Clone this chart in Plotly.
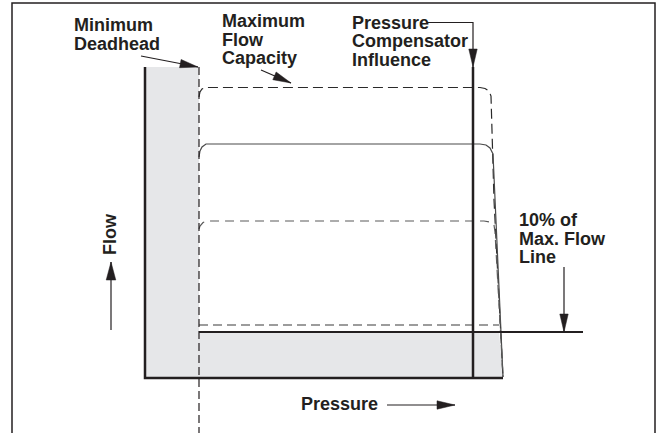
import math
import plotly.graph_objects as go

# Schematic units: pressure runs right from the vertical axis, flow runs up from
# the horizontal axis (1 unit = 1 px on both axes).

# Curves of flow vs. pressure
max_flow_p = [54, 55, 57, 60, 335, 340, 344, 346, 349, 358]
max_flow_q = [281, 286, 289, 290.5, 290.5, 289.5, 287, 282, 178, 1]

mid_flow_p = [54, 55, 57, 61, 335, 341, 345, 348, 358]
mid_flow_q = [221, 227, 231, 234, 234, 233, 230, 224, 1]

low_flow_p = [54, 55, 58, 64, 339, 345, 349, 350, 358]
low_flow_q = [149, 152, 155.5, 157, 157, 156, 153, 146, 1]

min_flow_p = [54, 354]
min_flow_q = [53, 53]

# Reference lines
deadhead_p = 54
deadhead_top = 311
deadhead_bottom = -60
ten_pct_q = 46
ten_pct_p = [54, 438]
compensator_p = 328
axis_top = 311
axis_right = 358

# Shaded operating limits
shade_p = [0, 0, 54, 54, 354, 358, 0]
shade_q = [0, 311, 311, 46, 46, 0, 0]

# Outer frame
frame_p = [-133, -133, 510, 510]
frame_q = [-60, 375, 375, -60]

# Callout arrows (tail ... tip)
deadhead_arrow_p = [-4, 53]
deadhead_arrow_q = [322, 311]
capacity_arrow_p = [116, 146]
capacity_arrow_q = [308, 295]
compensator_arrow_p = [282, 328, 328]
compensator_arrow_q = [355.5, 355.5, 311]
ten_pct_arrow_p = [419, 419]
ten_pct_arrow_q = [111, 46]
flow_arrow_p = [-34, -34]
flow_arrow_q = [48, 116]
pressure_arrow_p = [242, 310]
pressure_arrow_q = [-27, -27]

# Labels: (text lines, left x, y of each line)
labels = [
    (["Minimum", "Deadhead"], -72, [353.5, 334]),
    (["Maximum", "Flow", "Capacity"], 76, [357, 338.5, 320]),
    (["Pressure", "Compensator", "Influence"], 206, [355.5, 337, 318.5]),
    (["10% of", "Max. Flow", "Line"], 373, [158, 139.5, 121]),
]

INK = "#231f20"
FONT = "Liberation Sans, Arial, sans-serif"

fig = go.Figure()


def line(xs, ys, width=1.2, color=INK, dash="solid"):
    fig.add_trace(go.Scatter(
        x=xs, y=ys, mode="lines", hoverinfo="skip", showlegend=False,
        line=dict(color=color, width=width, dash=dash),
    ))


def arrow(xs, ys, width=1.2, head_len=18, head_half=4.2):
    line(xs, ys, width=width)
    x0, y0, x1, y1 = xs[-2], ys[-2], xs[-1], ys[-1]
    d = math.hypot(x1 - x0, y1 - y0)
    ux, uy = (x1 - x0) / d, (y1 - y0) / d
    bx, by = x1 - ux * head_len, y1 - uy * head_len
    px, py = -uy * head_half, ux * head_half
    fig.add_trace(go.Scatter(
        x=[x1, bx + px, bx - px, x1], y=[y1, by + py, by - py, y1],
        mode="lines", fill="toself", fillcolor=INK, hoverinfo="skip",
        showlegend=False, line=dict(color=INK, width=0.5),
    ))


# Grey region
fig.add_trace(go.Scatter(
    x=shade_p, y=shade_q, mode="lines", fill="toself", fillcolor="#e6e7e9",
    line=dict(width=0), hoverinfo="skip", showlegend=False,
))

# Frame
line(frame_p, frame_q, width=1.5)

# Flow curves
line(max_flow_p, max_flow_q, width=1.2, color="#2a2a2a", dash="10px,5px")
line(mid_flow_p, mid_flow_q, width=1.2, color="#4a4a4a")
line(low_flow_p, low_flow_q, width=1.2, color="#5a5a5a", dash="9px,6px")
line(min_flow_p, min_flow_q, width=1.2, color="#3a3a3a", dash="9px,5px")

# Minimum deadhead line
line([deadhead_p, deadhead_p], [deadhead_top, deadhead_bottom], width=1.2, dash="8px,4px")

# 10% of max flow line
line(ten_pct_p, [ten_pct_q, ten_pct_q], width=2)

# Pressure compensator line
line([compensator_p, compensator_p], [0, axis_top], width=2.5)

# Axes
line([0, 0, axis_right], [axis_top, 0, 0], width=2.5)

# Callout arrows
arrow(deadhead_arrow_p, deadhead_arrow_q)
arrow(capacity_arrow_p, capacity_arrow_q)
arrow(compensator_arrow_p, compensator_arrow_q)
arrow(ten_pct_arrow_p, ten_pct_arrow_q)
arrow(flow_arrow_p, flow_arrow_q, head_half=4.8)
arrow(pressure_arrow_p, pressure_arrow_q)

annotations = []
for lines_, x0, ys in labels:
    for txt, yy in zip(lines_, ys):
        annotations.append(dict(
            x=x0, y=yy, text=f"<b>{txt}</b>", showarrow=False,
            xanchor="left", yanchor="middle", borderpad=0,
            font=dict(family=FONT, size=18, color=INK),
        ))
annotations.append(dict(
    x=-35, y=144, text="<b>Flow</b>", showarrow=False, textangle=-90,
    xanchor="center", yanchor="middle", borderpad=0,
    font=dict(family=FONT, size=18, color=INK),
))
annotations.append(dict(
    x=155, y=-25.7, text="<b>Pressure</b>", showarrow=False,
    xanchor="left", yanchor="middle", borderpad=0,
    font=dict(family=FONT, size=18, color=INK),
))

fig.update_layout(
    width=657, height=433,
    margin=dict(l=0, r=0, t=0, b=0),
    paper_bgcolor="white", plot_bgcolor="white",
    xaxis=dict(range=[-145, 512], visible=False, fixedrange=True),
    yaxis=dict(range=[-55, 378], visible=False, fixedrange=True),
    annotations=annotations,
    showlegend=False,
)

fig.write_html("out.html")
